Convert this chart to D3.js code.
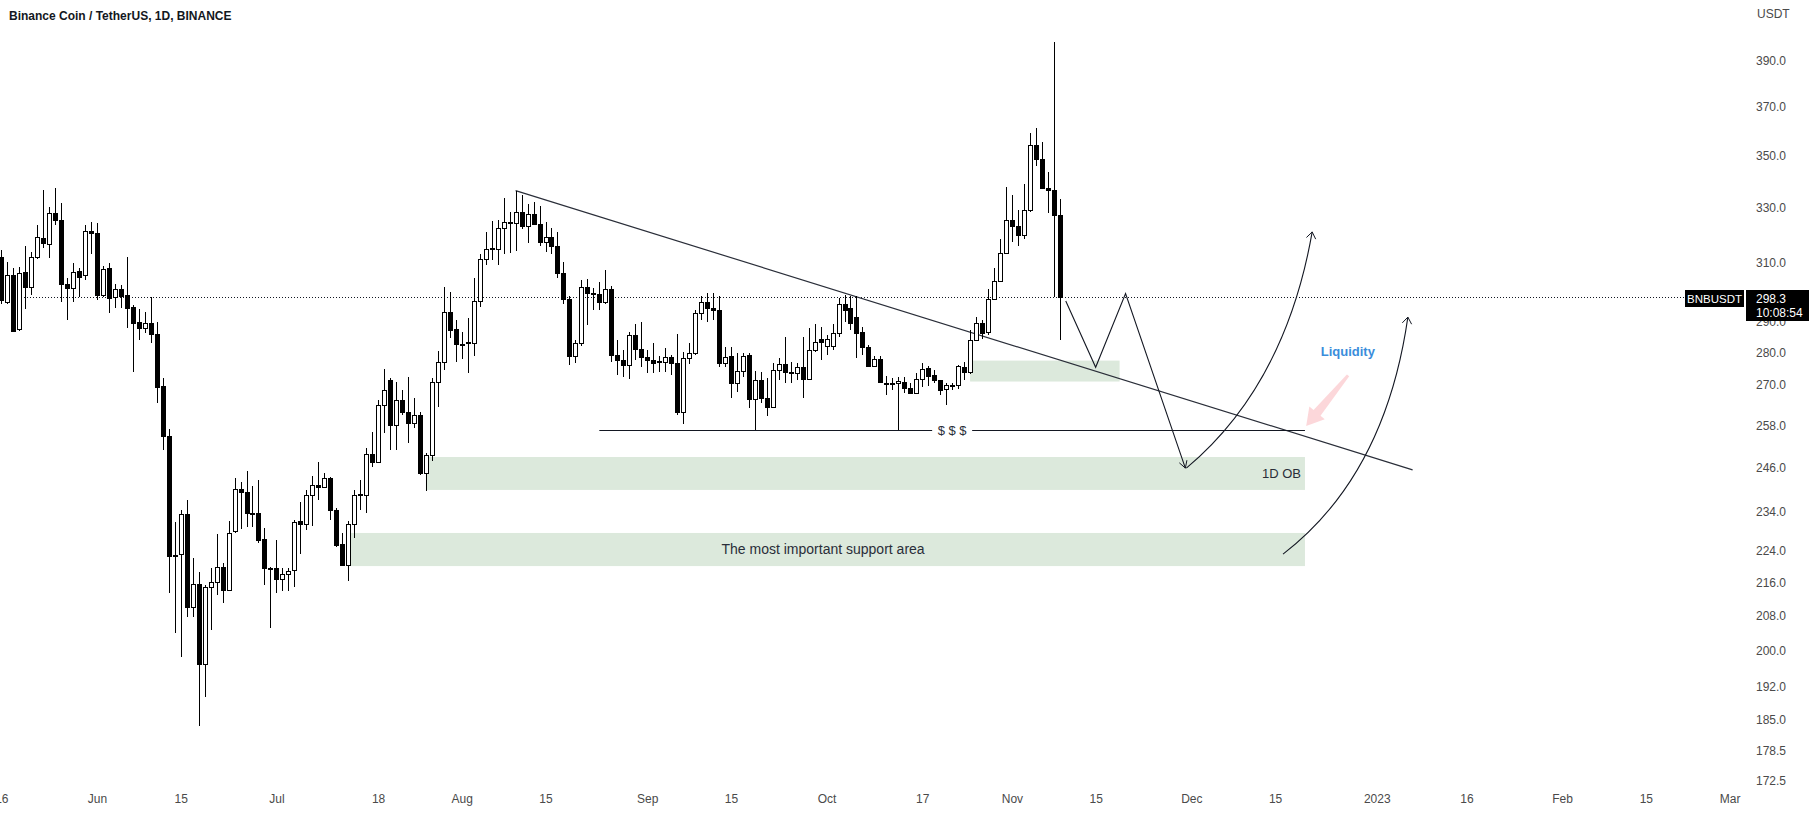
<!DOCTYPE html>
<html><head><meta charset="utf-8">
<script src="https://cdn.jsdelivr.net/npm/d3@7/dist/d3.min.js"></script>
<style>
body{margin:0;background:#fff;}
svg{display:block;}
text{font-family:"Liberation Sans",Arial,sans-serif;}
</style>
</head><body>
<svg id="chart" width="1814" height="813"></svg>
<script>
// ---------------- DATA ----------------
const firstDay = "2022-05-16";
const opens = [312.1,296.6,305.8,287.7,306.9,301.7,312.1,318.9,316.7,328.1,325.5,302.7,301.3,307.2,305.8,321.4,320.7,299.0,308.3,298.3,301.0,299.0,294.9,289.9,288.0,289.6,286.1,269.7,254.9,222.7,223.0,233.4,210.1,215.5,196.9,214.8,216.0,219.8,214.2,228.9,240.0,239.2,233.6,233.6,226.8,219.5,219.5,216.8,218.0,219.0,231.6,230.8,238.4,241.1,240.5,243.1,234.4,225.5,220.3,230.8,238.4,238.4,249.7,247.4,264.0,271.5,258.0,265.5,261.9,258.6,261.0,244.4,249.4,270.9,277.2,293.3,287.6,283.0,283.2,283.2,297.1,311.3,315.3,314.8,322.4,324.6,324.2,328.4,323.4,327.8,324.0,317.4,319.2,315.9,306.4,297.7,279.0,283.3,301.8,299.8,299.2,296.5,300.9,279.3,277.8,276.2,285.7,281.4,278.8,277.8,277.2,277.3,278.8,276.7,262.0,278.5,280.1,293.1,296.5,294.7,294.0,277.0,279.0,270.7,274.4,279.3,265.8,271.5,266.0,263.5,274.8,276.4,274.1,273.8,275.7,272.0,281.1,284.4,282.2,282.2,286.5,296.0,294.5,291.5,286.8,282.0,276.0,278.1,270.8,270.6,270.5,271.0,269.0,267.7,272.0,275.3,273.0,271.5,268.7,270.0,270.0,275.5,273.9,284.1,289.8,286.6,297.5,303.7,313.4,325.3,323.4,320.0,329.2,354.3,348.6,337.4,336.8,327.4];
const highs = [314.5,310.4,308.3,308.6,316.0,313.9,323.6,336.7,330.4,337.4,331.8,304.8,310.1,308.3,323.6,324.8,324.4,309.0,310.1,302.7,302.3,312.1,295.6,294.3,293.3,298.3,289.9,272.1,257.0,231.3,234.4,237.0,221.9,218.5,215.3,219.5,228.2,220.8,231.6,243.1,241.9,245.0,240.8,242.5,229.6,219.8,226.5,219.5,219.5,231.9,236.5,239.7,243.6,247.4,244.5,243.3,234.9,228.5,231.6,239.7,242.5,251.4,256.0,265.5,275.0,272.1,270.9,268.5,272.4,266.1,261.9,250.0,272.1,280.6,301.7,300.0,290.6,286.8,291.3,304.9,313.2,321.2,325.2,325.5,333.6,328.6,336.5,335.0,331.6,332.2,330.5,324.9,322.4,321.2,310.5,298.5,284.0,304.1,304.6,301.3,303.5,307.4,302.0,284.1,281.0,286.8,289.5,290.0,280.9,283.1,279.2,281.5,279.3,286.0,280.4,283.2,294.0,298.5,299.6,299.6,298.5,282.0,282.0,280.0,280.0,280.0,274.5,274.0,272.1,276.7,278.3,285.2,277.3,276.7,285.0,288.0,289.5,288.4,285.7,289.5,298.0,299.0,298.5,298.5,288.4,282.6,279.0,279.0,272.8,272.1,272.6,272.6,270.5,273.6,276.7,276.0,274.6,271.7,270.5,270.5,276.2,277.3,287.4,291.8,290.6,300.9,308.2,318.6,338.0,335.0,329.2,338.9,359.0,361.1,355.6,343.8,398.2,333.3];
const lows = [295.9,295.9,286.7,287.0,294.3,299.0,311.4,315.3,311.8,323.6,296.6,290.6,296.6,298.3,304.1,313.2,297.3,298.3,293.0,294.6,294.6,288.0,274.0,284.1,286.4,283.1,264.6,250.8,213.4,204.0,198.5,207.7,207.7,183.6,189.7,204.6,212.9,211.0,213.8,228.5,229.4,229.9,229.9,225.7,215.3,205.2,213.5,213.8,213.8,214.8,223.0,229.1,230.2,237.0,240.3,231.7,224.7,220.0,216.3,227.0,234.4,233.6,246.0,247.1,255.7,250.8,250.8,261.0,252.8,257.2,243.9,239.4,247.7,263.4,274.6,284.8,277.2,278.2,273.7,278.9,295.0,309.4,311.1,309.4,313.2,313.5,314.3,322.0,317.2,323.7,315.9,313.8,313.2,304.7,295.8,276.2,277.0,282.2,289.1,294.0,294.0,295.8,277.3,273.0,272.6,272.0,277.8,275.7,273.6,273.6,274.1,274.1,273.0,260.9,258.5,276.5,279.5,290.6,289.9,290.6,275.7,275.7,266.0,268.0,272.6,263.0,256.6,264.5,260.6,263.0,271.5,270.5,270.5,271.5,266.0,271.5,280.4,277.8,279.3,280.9,285.2,290.0,287.5,278.5,279.5,275.7,275.7,270.7,266.9,268.5,256.6,267.5,267.4,267.5,269.5,269.6,270.5,266.9,264.1,268.5,268.7,271.7,273.4,283.9,284.6,285.7,297.3,303.6,313.1,317.5,315.9,318.6,328.4,345.9,337.2,328.0,298.3,284.1];
const closes = [297.3,305.8,287.0,306.5,301.7,312.1,319.2,317.1,328.1,325.5,302.7,301.3,306.9,305.1,321.4,320.7,299.0,308.0,298.0,301.0,298.6,294.6,289.6,288.0,289.6,286.1,269.4,254.9,222.5,222.5,233.4,210.1,215.5,196.9,214.8,216.0,219.8,214.2,228.5,240.0,239.2,233.6,233.4,226.5,219.5,219.3,216.8,218.0,218.8,231.3,230.8,238.4,241.1,240.5,243.1,234.4,225.2,220.3,230.8,238.4,238.6,249.7,247.4,264.0,268.5,258.0,265.5,261.9,258.6,261.0,244.4,249.4,270.9,277.2,293.3,287.4,283.0,282.7,283.4,297.1,311.3,315.1,314.8,322.4,324.6,324.2,328.4,323.4,327.8,324.0,317.4,319.2,315.9,306.4,297.7,279.0,283.3,301.8,299.8,299.2,296.5,300.9,279.3,277.7,276.2,285.7,281.4,278.8,277.8,277.0,277.4,278.8,276.7,262.0,278.5,280.1,293.1,296.5,294.6,294.0,277.0,278.8,270.7,274.4,279.0,265.8,271.5,266.0,263.5,274.8,276.4,274.1,274.0,275.7,272.0,281.1,283.6,283.6,284.4,286.5,296.0,294.0,289.7,286.4,282.0,276.0,278.1,271.0,270.5,270.8,271.2,269.0,267.7,272.0,275.1,272.7,271.5,268.5,270.1,270.1,276.0,273.9,284.1,289.8,286.4,297.5,303.7,313.4,325.3,323.4,320.0,329.2,354.3,348.6,337.4,336.8,327.4,298.3];

const lastPrice = 298.3;
const countdown = "10:08:54";
const symbol = "BNBUSDT";
const title = "Binance Coin / TetherUS, 1D, BINANCE";

const yTicks = [390,370,350,330,310,290,280,270,258,246,234,224,216,208,200,192,185,178.5,172.5];
const xTickDates = ["2022-05-16","2022-06-01","2022-06-15","2022-07-01","2022-07-18","2022-08-01","2022-08-15","2022-09-01","2022-09-15","2022-10-01","2022-10-17","2022-11-01","2022-11-15","2022-12-01","2022-12-15","2023-01-01","2023-01-16","2023-02-01","2023-02-15","2023-03-01"];
const xTickLabels = ["16","Jun","15","Jul","18","Aug","15","Sep","15","Oct","17","Nov","15","Dec","15","2023","16","Feb","15","Mar"];

// drawings (date, price)
const trendDates = ["2022-08-10","2023-01-07"];
const trendPrices = [336.5,245.3];
const liqLineDates = ["2022-08-24","2022-12-20"];
const liqLinePrice = 256.6;
const liqLabelDate = "2022-10-22";
const liqLabel = "$ $ $";

const zoneStarts = ["2022-10-25","2022-07-26","2022-07-13"];
const zoneEnds = ["2022-11-19","2022-12-20","2022-12-20"];
const zoneTops = [277.6,248.9,228.4];
const zoneBottoms = [271.1,239.8,220.0];
const zoneLabels = ["","1D OB","The most important support area"];
const zoneLabelDates = ["","2022-12-19T08:00Z","2022-09-30T10:00Z"];

const zigDates = ["2022-11-10","2022-11-15","2022-11-20","2022-11-30"];
const zigPrices = [297.0,275.5,299.5,245.8];
const curveADates = ["2022-11-30T04:00Z","2022-12-16T17:00Z","2022-12-21T05:00Z"];
const curveAPrices = [245.8,270.0,321.1];
const curveBDates = ["2022-12-16T08:00Z","2023-01-02T10:00Z","2023-01-06T05:00Z"];
const curveBPrices = [223.0,243.8,291.6];
const pinkArrowDates = ["2022-12-27T05:00Z","2022-12-20T05:00Z"];
const pinkArrowPrices = [273.0,257.8];
const noteText = "Liquidity";
const noteDate = "2022-12-27T04:00Z";
const notePrice = 280.6;

// ---------------- CHART ----------------
const svg = d3.select("#chart");
const W = 1814, H = 813;
svg.append("rect").attr("width",W).attr("height",H).attr("fill","#fff");

const x = d3.scaleUtc()
  .domain([new Date("2022-06-01T00:00Z"), new Date("2023-03-01T00:00Z")])
  .range([97, 97 + 273*5.98]);
const y = d3.scaleLog().domain([390,172.5]).range([60.2,781]);

const day0 = new Date(firstDay + "T00:00Z");
const candles = opens.map((o,i)=>({
  date: d3.utcDay.offset(day0, i), o, h: highs[i], l: lows[i], c: closes[i]
}));
const D = s => new Date(s.length <= 10 ? s + "T00:00Z" : s);

const plot = svg.append("g");

// zones
zoneStarts.forEach((s,i)=>{
  const x0 = x(D(s)), x1 = x(D(zoneEnds[i]));
  const y0 = y(zoneTops[i]), y1 = y(zoneBottoms[i]);
  plot.append("rect").attr("x",x0).attr("y",y0).attr("width",x1-x0).attr("height",y1-y0)
    .attr("fill","#dce9dc");
});
zoneLabels.forEach((t,i)=>{
  if(!t) return;
  const cy = (y(zoneTops[i]) + y(zoneBottoms[i]))/2;
  const anchor = i===1 ? "end" : "middle";
  plot.append("text").attr("x",x(D(zoneLabelDates[i]))).attr("y",cy).attr("dy","0.35em")
    .attr("text-anchor",anchor).attr("font-size", i===1?13:14).attr("fill","#2a2e39").text(t);
});

// price line (dotted)
plot.append("line").attr("x1",0).attr("x2",1685).attr("y1",Math.round(y(lastPrice))+0.5).attr("y2",Math.round(y(lastPrice))+0.5)
  .attr("stroke","#131722").attr("stroke-width",1).attr("stroke-dasharray","1,2");

// trendline
plot.append("line")
  .attr("x1",x(D(trendDates[0]))).attr("y1",y(trendPrices[0]))
  .attr("x2",x(D(trendDates[1]))).attr("y2",y(trendPrices[1]))
  .attr("stroke","#2a2e39").attr("stroke-width",1.2);

// liquidity line with label
const ly = Math.round(y(liqLinePrice))+0.5;
plot.append("line").attr("x1",x(D(liqLineDates[0]))).attr("x2",x(D(liqLineDates[1])))
  .attr("y1",ly).attr("y2",ly).attr("stroke","#131722").attr("stroke-width",1);
const lx = x(D(liqLabelDate));
plot.append("rect").attr("x",lx-20).attr("y",ly-8).attr("width",40).attr("height",16).attr("fill","#fff");
plot.append("text").attr("x",lx).attr("y",ly).attr("dy","0.35em").attr("text-anchor","middle")
  .attr("font-size",13).attr("fill","#2a2e39").text(liqLabel);

// candles
const cg = plot.append("g").attr("shape-rendering","crispEdges");
candles.forEach(d=>{
  const cx = Math.round(x(d.date));
  cg.append("line").attr("x1",cx+0.5).attr("x2",cx+0.5).attr("y1",y(d.h)).attr("y2",y(d.l))
    .attr("stroke","#000").attr("stroke-width",1);
  const top = y(Math.max(d.o,d.c)), bot = y(Math.min(d.o,d.c));
  cg.append("rect").attr("x",cx-2+0.5).attr("y",Math.round(top)+0.5).attr("width",4)
    .attr("height",Math.max(1,Math.round(bot)-Math.round(top)))
    .attr("fill", d.c >= d.o ? "#fff" : "#000").attr("stroke","#000").attr("stroke-width",1);
});

// arrows helper
function head(g, tip, from, len, ang){
  const dx = from[0]-tip[0], dy = from[1]-tip[1];
  const a = Math.atan2(dy,dx);
  const p1 = [tip[0]+len*Math.cos(a+ang), tip[1]+len*Math.sin(a+ang)];
  const p2 = [tip[0]+len*Math.cos(a-ang), tip[1]+len*Math.sin(a-ang)];
  g.append("path").attr("d",`M${p1}L${tip}L${p2}`).attr("fill","none")
    .attr("stroke","#131722").attr("stroke-width",1);
}
const ag = plot.append("g");
// zigzag
const zpts = zigDates.map((d,i)=>[x(D(d)), y(zigPrices[i])]);
ag.append("path").attr("d",d3.line()(zpts)).attr("fill","none").attr("stroke","#131722").attr("stroke-width",1.1);
head(ag, zpts[3], zpts[2], 8, Math.PI/6);
// curves
[[curveADates,curveAPrices],[curveBDates,curveBPrices]].forEach(([ds,ps])=>{
  const p = ds.map((d,i)=>[x(D(d)), y(ps[i])]);
  ag.append("path").attr("d",`M${p[0]}Q${p[1]} ${p[2]}`).attr("fill","none")
    .attr("stroke","#131722").attr("stroke-width",1.1);
  head(ag, p[2], p[1], 8, Math.PI/5);
});

// pink arrow
(function(){
  const T = [x(D(pinkArrowDates[0])), y(pinkArrowPrices[0])];
  const Hh = [x(D(pinkArrowDates[1])), y(pinkArrowPrices[1])];
  const L = Math.hypot(Hh[0]-T[0], Hh[1]-T[1]);
  const u = [(Hh[0]-T[0])/L, (Hh[1]-T[1])/L];
  const n = [-u[1], u[0]];
  const hl = 17, hw = 10, sw = 4.5, tw = 1.5;
  const B = [Hh[0]-u[0]*hl, Hh[1]-u[1]*hl];
  const P = (p,k,s)=>[p[0]+n[0]*k*s, p[1]+n[1]*k*s];
  const pts = [P(T,1,tw),P(B,1,sw),P(B,1,hw),Hh,P(B,-1,hw),P(B,-1,sw),P(T,-1,tw)];
  ag.append("path").attr("d","M"+pts.join("L")+"Z").attr("fill","#f23645").attr("fill-opacity",0.2);
})();
ag.append("text").attr("x",x(D(noteDate))).attr("y",y(notePrice)).attr("dy","0.35em")
  .attr("text-anchor","middle").attr("font-size",13).attr("font-weight","bold").attr("fill","#3a8ddb").text(noteText);

// title
svg.append("text").attr("x",9).attr("y",20).attr("font-size",12).attr("font-weight","bold")
  .attr("fill","#131722").text(title);

// y axis
const yAxis = svg.append("g").attr("transform","translate(1756,0)")
  .call(d3.axisRight(y).tickValues(yTicks).tickSize(0).tickPadding(0).tickFormat(d3.format(".1f")));
yAxis.select(".domain").remove();
yAxis.selectAll("text").attr("font-size",12).attr("fill","#4a4a4a").attr("font-family",'"Liberation Sans",Arial,sans-serif');
svg.append("text").attr("x",1757).attr("y",14).attr("dy","0.35em").attr("font-size",12).attr("fill","#4a4a4a").text("USDT");

// x axis
const xAxis = svg.append("g").attr("transform","translate(0,794)")
  .call(d3.axisBottom(x).tickValues(xTickDates.map(D)).tickSize(0).tickPadding(0)
    .tickFormat((d,i)=>xTickLabels[i]));
xAxis.select(".domain").remove();
xAxis.selectAll("text").attr("font-size",12).attr("fill","#4a4a4a").attr("font-family",'"Liberation Sans",Arial,sans-serif');

// price labels
const py = y(lastPrice);
svg.append("rect").attr("x",1685).attr("y",Math.round(py)-7).attr("width",59).attr("height",17).attr("fill","#000");
svg.append("text").attr("x",1714.5).attr("y",Math.round(py)+1.5).attr("dy","0.35em").attr("text-anchor","middle")
  .attr("font-size",11.5).attr("fill","#fff").text(symbol);
svg.append("rect").attr("x",1746).attr("y",Math.round(py)-7).attr("width",63).attr("height",31).attr("fill","#000");
svg.append("text").attr("x",1756).attr("y",Math.round(py)+1.5).attr("dy","0.35em")
  .attr("font-size",12).attr("fill","#fff").text(d3.format(".1f")(lastPrice));
svg.append("text").attr("x",1756).attr("y",Math.round(py)+16).attr("dy","0.35em")
  .attr("font-size",12).attr("fill","#fff").text(countdown);
</script>
</body></html>
